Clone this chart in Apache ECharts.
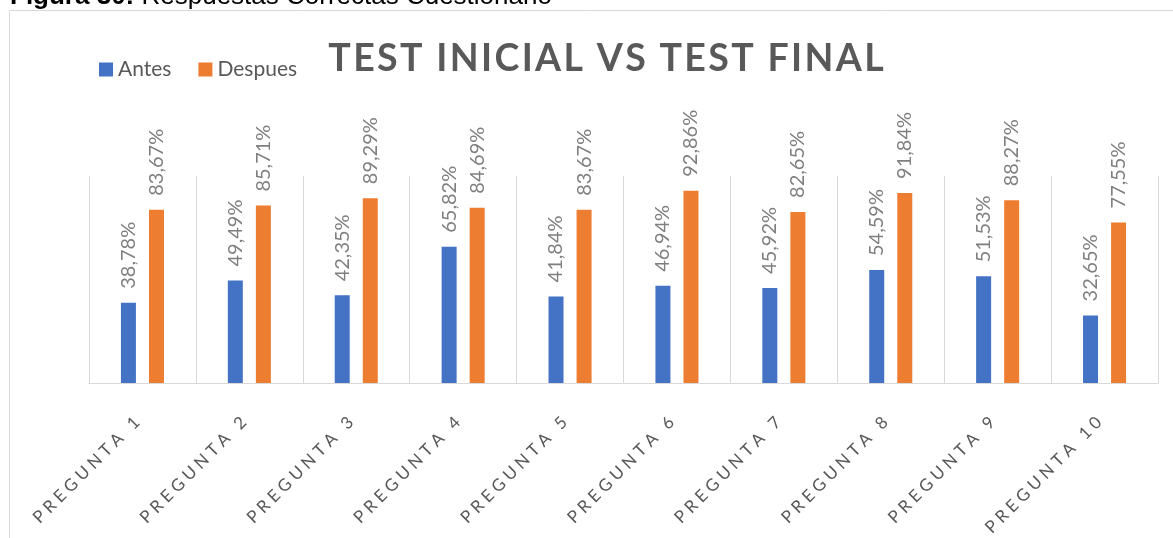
<!DOCTYPE html>
<html>
<head>
<meta charset="utf-8">
<script src="https://cdn.jsdelivr.net/npm/echarts@6/dist/echarts.min.js"></script>
<style>
  html, body { margin: 0; padding: 0; background: #fff; }
  #chart { width: 1173px; height: 538px; }
</style>
</head>
<body>
<div id="chart"></div>
<script>
// datos
const categorias = ['PREGUNTA 1', 'PREGUNTA 2', 'PREGUNTA 3', 'PREGUNTA 4', 'PREGUNTA 5',
  'PREGUNTA 6', 'PREGUNTA 7', 'PREGUNTA 8', 'PREGUNTA 9', 'PREGUNTA 10'];
const antes = [38.78, 49.49, 42.35, 65.82, 41.84, 46.94, 45.92, 54.59, 51.53, 32.65];
const despues = [83.67, 85.71, 89.29, 84.69, 83.67, 92.86, 82.65, 91.84, 88.27, 77.55];

const gris = '#595959';
const fmt = v => v.toFixed(2).replace('.', ',') + '%';
// espaciado entre letras como en el original
const espaciar = (s, sep) => s.split('').join(sep);

const chart = echarts.init(document.getElementById('chart'));

const etiqueta = {
  show: true,
  position: 'top',
  rotate: 90,
  align: 'left',
  verticalAlign: 'middle',
  distance: 14,
  color: '#7f7f7f',
  fontFamily: 'Lato',
  fontSize: 20,
  formatter: p => fmt(p.value)
};

chart.setOption({
  animation: false,
  title: {
    text: espaciar('TEST INICIAL VS TEST FINAL', '\u200A'),
    left: 601,
    textAlign: 'center',
    top: 35,
    textStyle: { color: gris, fontFamily: 'Lato', fontWeight: 'bold', fontSize: 37.5 }
  },
  legend: {
    left: 94,
    top: 54,
    itemWidth: 14,
    itemHeight: 14,
    itemGap: 27,
    icon: 'rect',
    textStyle: { color: gris, fontFamily: 'Lato', fontSize: 21 },
    data: ['Antes', 'Despues']
  },
  graphic: [
    {
      type: 'rect',
      shape: { x: 9.5, y: 10.5, width: 1200, height: 600 },
      style: { fill: 'none', stroke: '#d9d9d9', lineWidth: 1 },
      silent: true
    },
    {
      type: 'text',
      left: 10,
      top: -16,
      style: {
        text: '{b|Figura 30:} Respuestas Correctas Cuestionario',
        font: '26px "Liberation Sans"',
        fill: '#000',
        rich: { b: { fontWeight: 'bold', fontSize: 26, fontFamily: 'Liberation Sans' } }
      }
    }
  ],
  grid: { left: 89, right: 15, top: 176, bottom: 155, outerBoundsMode: 'none', containLabel: false },
  xAxis: {
    type: 'category',
    data: categorias,
    axisLine: { lineStyle: { color: '#d9d9d9', width: 1 } },
    axisTick: { show: false },
    splitLine: { show: true, lineStyle: { color: '#d9d9d9', width: 1 } },
    axisLabel: {
      interval: 0,
      rotate: 45,
      margin: 31,
      padding: [0, 8, 0, 0],
      color: gris,
      fontFamily: 'Lato',
      fontSize: 17,
      formatter: s => espaciar(s, '\u2005')
    }
  },
  yAxis: {
    type: 'value',
    min: 0,
    max: 100,
    show: false,
    splitLine: { show: false }
  },
  series: [
    {
      name: 'Antes',
      type: 'bar',
      data: antes,
      barWidth: 15,
      barGap: '87%',
      itemStyle: { color: '#4472C4' },
      label: etiqueta
    },
    {
      name: 'Despues',
      type: 'bar',
      data: despues,
      barWidth: 15,
      itemStyle: { color: '#ED7D31' },
      label: etiqueta
    }
  ]
});
</script>
</body>
</html>
